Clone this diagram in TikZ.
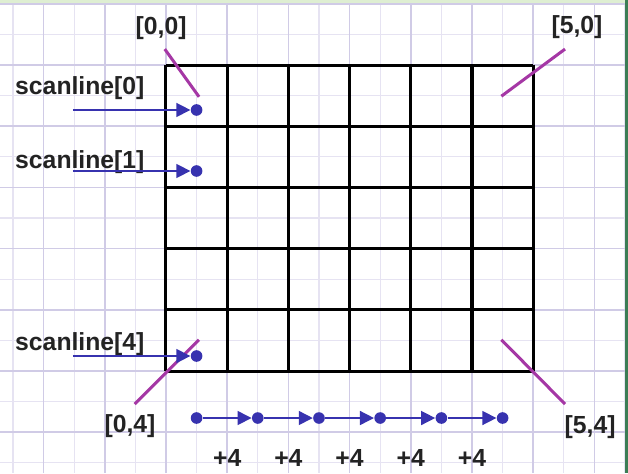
\documentclass[tikz,border=0pt]{standalone}
\usepackage{fontspec}
\setmainfont{Liberation Sans}
\usetikzlibrary{arrows.meta}
\definecolor{paperline}{RGB}{208,203,230}
\definecolor{paperfine}{RGB}{230,227,242}
\definecolor{scanblue}{RGB}{55,50,175}
\definecolor{cornermag}{RGB}{165,55,165}
\definecolor{edgegreen}{RGB}{60,125,85}
\definecolor{edgelight}{RGB}{222,238,210}
\definecolor{textgray}{RGB}{35,35,35}
\begin{document}
\begin{tikzpicture}[
    lbl/.style={font=\bfseries\fontsize{11.5}{13}\selectfont, text=textgray, inner sep=0pt},
    scandot/.style={circle, fill=scanblue, inner sep=0pt, minimum size=5.4pt},
    scanarrow/.style={draw=scanblue, line width=0.7pt, -{Triangle[length=6.5pt,width=6.5pt]}},
    cornerline/.style={draw=cornermag, line width=1.4pt}
]
    % 背景：方格纸
    \useasboundingbox (-2.712,-1.667) rectangle (7.549,6.062);
    \fill[white] (-2.712,-1.667) rectangle (7.549,6.062);
    \draw[paperfine, line width=0.6pt, step=0.5] (-2.712,-1.667) grid (7.549,6.062);
    \draw[paperline, line width=0.8pt, step=1] (-2.712,-1.667) grid (7.549,6.062);
    \fill[edgelight] (-2.712,6.02) rectangle (7.549,6.062);
    \fill[edgegreen] (7.50,-1.667) rectangle (7.549,6.062);

    % 图像像素 6 x 5
    \draw[black, line width=1.4pt] (0,0) grid (6,5);

    % 四个角的坐标
    \node[lbl] (c00) at (-0.08,5.605) {[0,0]};
    \node[lbl] (c50) at (6.716,5.62) {[5,0]};
    \node[lbl] (c04) at (-0.588,-0.899) {[0,4]};
    \node[lbl] (c54) at (6.93,-0.915) {[5,4]};
    \coordinate (p00) at (0.54,4.48);   \coordinate (q00) at (-0.02,5.26);
    \coordinate (p50) at (5.48,4.49);   \coordinate (q50) at (6.52,5.26);
    \coordinate (p04) at (0.54,0.51);   \coordinate (q04) at (-0.51,-0.54);
    \coordinate (p54) at (5.48,0.51);   \coordinate (q54) at (6.52,-0.54);
    \foreach \c in {00,50,04,54} {
        \draw[cornerline] (p\c) -- (q\c);
    }

    % 每一行的 scanline 指针
    \foreach \r/\ly/\ay in {0/4.616/4.265, 1/3.415/3.268, 4/0.441/0.245} {
        \node[lbl, anchor=west] (scan\r) at (-2.47,\ly) {scanline[\r]};
        \coordinate (from\r) at (-1.52,\ay);
        \node[scandot] (row\r) at (0.5,\ay) {};
        \draw[scanarrow] (from\r) -- (row\r);
    }

    % 指针每次 +4
    \node[scandot] (step0) at (0.5,-0.768) {};
    \foreach \i in {1,...,5} {
        \pgfmathsetmacro{\prev}{int(\i-1)}
        \node[scandot] (step\i) at (\i+0.5,-0.768) {};
        \draw[scanarrow] (step\prev) -- (step\i);
        \node[lbl] (plus\i) at (\i,-1.42) {+4};
    }
\end{tikzpicture}
\end{document}
